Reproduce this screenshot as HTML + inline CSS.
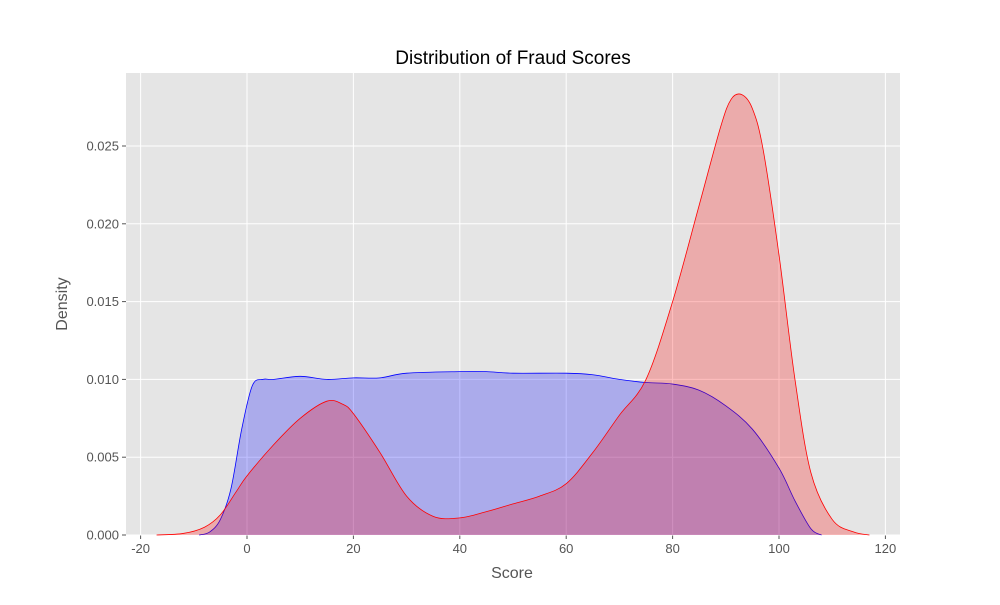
<!DOCTYPE html>
<html><head><meta charset="utf-8"><style>
body{margin:0;background:#fff;font-family:"Liberation Sans","DejaVu Sans",sans-serif}
</style></head><body>
<svg id="chart" width="1000" height="600" xmlns="http://www.w3.org/2000/svg"></svg>
<script>
const xTicks=[-20,0,20,40,60,80,100,120];
const yTicks=[0,0.005,0.010,0.015,0.020,0.025];
const yTickLabels=["0.000","0.005","0.010","0.015","0.020","0.025"];
const blueX=[-9,-7,-5,-3,-1,1,3,5,10,15,20,25,30,40,45,50,60,65,70,75,80,85,90,95,100,103,106,108];
const blueY=[0,0.0002,0.001,0.003,0.0068,0.0096,0.01,0.01,0.0102,0.01,0.0101,0.0101,0.0104,0.0105,0.0105,0.0104,0.0104,0.0103,0.01,0.0098,0.0097,0.0093,0.0083,0.0068,0.0043,0.0022,0.0004,0];
const redX=[-17,-12,-8,-5,-2,0,5,10,15,18,20,25,30,35,40,45,50,55,60,65,70,75,80,85,89,91,93,95,97,100,103,106,110,114,117];
const redY=[0,0.0001,0.0005,0.0013,0.0028,0.0038,0.0058,0.0075,0.0086,0.0084,0.0078,0.0053,0.0025,0.0012,0.0011,0.0015,0.002,0.0025,0.0033,0.0053,0.0077,0.01,0.015,0.0212,0.0262,0.028,0.0283,0.0274,0.0248,0.018,0.01,0.004,0.001,0.0002,0];
const svg=document.getElementById('chart');const NS='http://www.w3.org/2000/svg';
const L=126,R=900,T=73,B=535;
const sx=v=>247+v*5.32;
const sy=v=>535-v*15560;
function mk(t,a,p){const e=document.createElementNS(NS,t);for(const k in a)e.setAttribute(k,a[k]);(p||svg).appendChild(e);return e;}
let bg=mk('rect',{x:L,y:T,width:R-L,height:B-T,fill:'#e5e5e5'});


xTicks.forEach(v=>{mk('line',{x1:sx(v),x2:sx(v),y1:T,y2:B,stroke:'#fff','stroke-width':1});
 mk('line',{x1:sx(v),x2:sx(v),y1:B,y2:B+4,stroke:'#555'});
 const t=mk('text',{x:sx(v),y:B+18,'font-size':13,fill:'#555','text-anchor':'middle'});t.textContent=v;
 
 });
yTicks.forEach((v,i)=>{mk('line',{x1:L,x2:R,y1:sy(v),y2:sy(v),stroke:'#fff','stroke-width':1});
 mk('line',{x1:L-4,x2:L,y1:sy(v),y2:sy(v),stroke:'#555'});
 const t=mk('text',{x:L-7,y:sy(v)+4.5,'font-size':13,fill:'#555','text-anchor':'end'});t.textContent=yTickLabels[i];
 
 });
function smooth(xs,ys){const p=xs.map((x,i)=>[sx(x),sy(ys[i])]);let d='M'+p[0][0]+','+p[0][1];
 for(let i=0;i<p.length-1;i++){const p0=p[i-1]||p[i],p1=p[i],p2=p[i+1],p3=p[i+2]||p2;
 d+=` C${p1[0]+(p2[0]-p0[0])/6},${p1[1]+(p2[1]-p0[1])/6} ${p2[0]-(p3[0]-p1[0])/6},${p2[1]-(p3[1]-p1[1])/6} ${p2[0]},${p2[1]}`;}return d;}
function series(xs,ys,col,name){const d=smooth(xs,ys);
 const f=mk('path',{d:d+` L${sx(xs[xs.length-1])},${B} L${sx(xs[0])},${B} Z`,fill:col,'fill-opacity':0.25,stroke:'none'});
 
 
 const l=mk('path',{d:d,fill:'none',stroke:col,'stroke-width':0.8});
 
 }
series(blueX,blueY,'#0000ff','blue-density');
series(redX,redY,'#ff0000','red-density');
let t=mk('text',{x:513,y:64,'font-size':19,fill:'#000','text-anchor':'middle'});t.textContent='Distribution of Fraud Scores';


t=mk('text',{x:512,y:578,'font-size':16,fill:'#555','text-anchor':'middle'});t.textContent='Score';


t=mk('text',{x:67,y:304,'font-size':16,fill:'#555','text-anchor':'middle',transform:'rotate(-90 67 304)'});t.textContent='Density';


</script>
</body></html>
